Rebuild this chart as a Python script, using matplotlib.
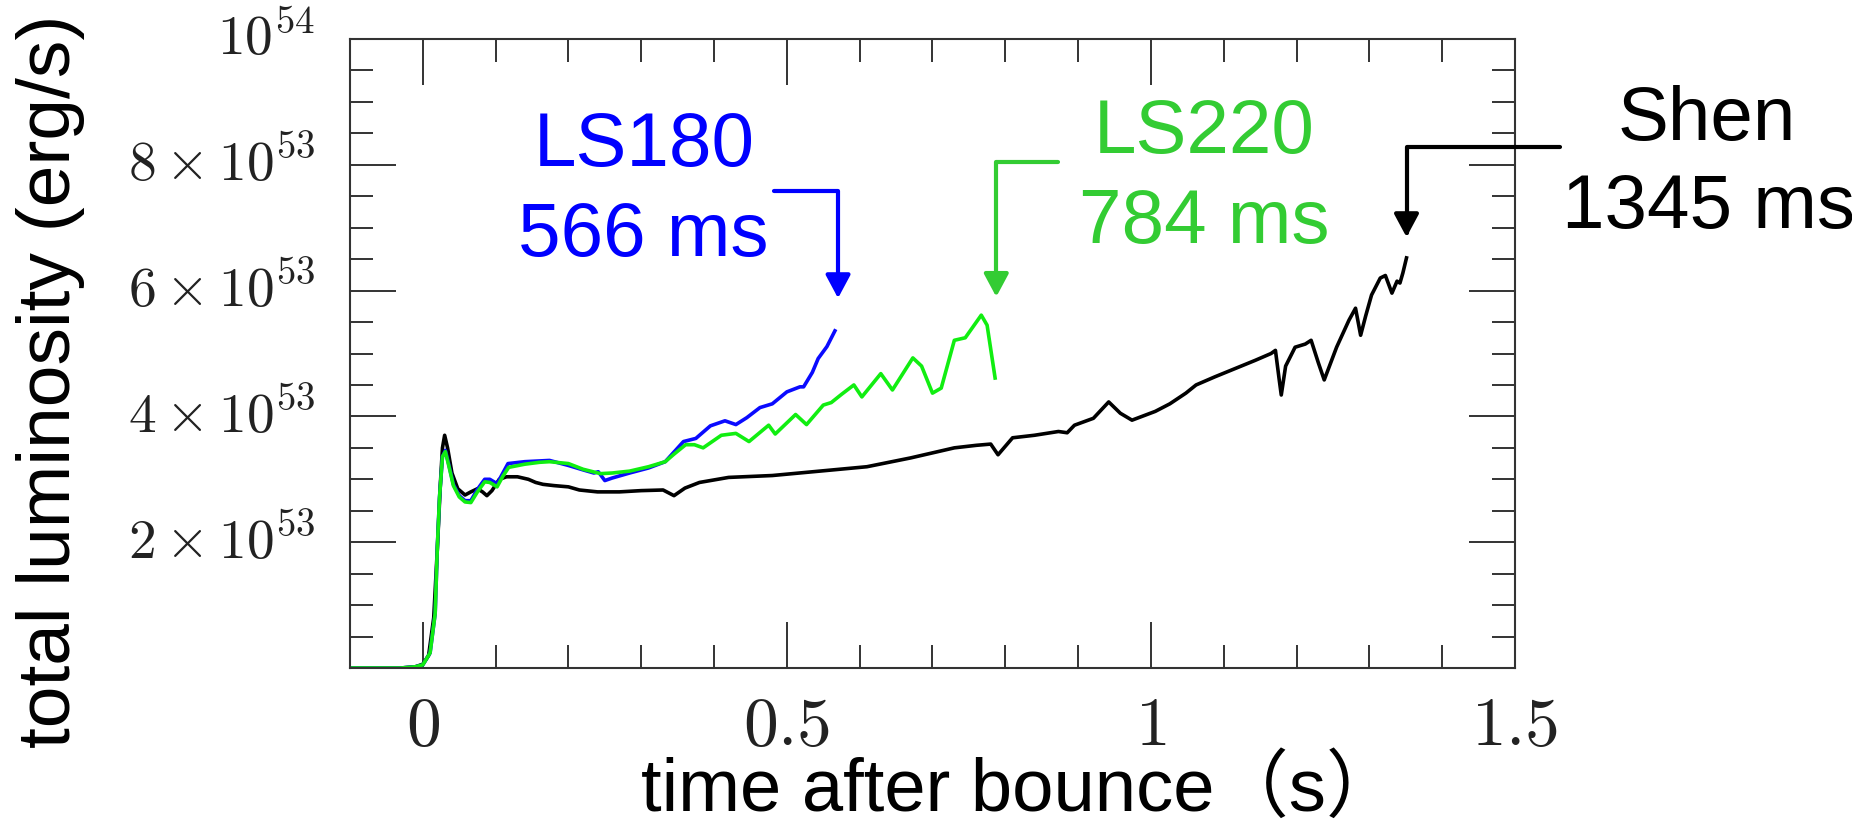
import matplotlib
matplotlib.use('Agg')
import matplotlib.pyplot as plt
import matplotlib.transforms as mtransforms
import numpy as np
from matplotlib.ticker import MultipleLocator

plt.rcParams['mathtext.fontset'] = 'cm'

# time after bounce (s) and total luminosity (in units of 1e53 erg/s)
t_shen = [-0.10, -0.03, -0.01, 0.0, 0.008, 0.015, 0.020, 0.024, 0.027, 0.030, 0.034, 0.040,
          0.048, 0.058, 0.066, 0.075, 0.082, 0.088, 0.095, 0.105, 0.115, 0.130, 0.145, 0.155,
          0.165, 0.180, 0.200, 0.215, 0.240, 0.270, 0.300, 0.330, 0.345, 0.360, 0.380, 0.420,
          0.480, 0.545, 0.610, 0.670, 0.730, 0.760, 0.780, 0.790, 0.810, 0.840, 0.873, 0.885,
          0.895, 0.921, 0.942, 0.958, 0.974, 1.006, 1.026, 1.048, 1.062, 1.088, 1.143, 1.165,
          1.171, 1.176, 1.179, 1.185, 1.198, 1.212, 1.220, 1.230, 1.238, 1.255, 1.272, 1.281,
          1.288, 1.295, 1.303, 1.315, 1.322, 1.331, 1.338, 1.342, 1.346, 1.351]
L_shen = [0.0, 0.0, 0.02, 0.06, 0.2, 0.8, 1.9, 2.9, 3.5, 3.70, 3.5, 3.1,
          2.85, 2.75, 2.80, 2.85, 2.80, 2.74, 2.82, 3.00, 3.04, 3.04, 3.00, 2.95,
          2.92, 2.90, 2.88, 2.83, 2.80, 2.80, 2.82, 2.83, 2.74, 2.86, 2.95, 3.03,
          3.06, 3.13, 3.20, 3.34, 3.50, 3.54, 3.56, 3.39, 3.66, 3.70, 3.76, 3.74,
          3.86, 3.97, 4.23, 4.05, 3.94, 4.08, 4.20, 4.37, 4.50, 4.63, 4.89, 5.00,
          5.05, 4.60, 4.34, 4.80, 5.10, 5.15, 5.21, 4.85, 4.58, 5.10, 5.53, 5.72,
          5.29, 5.60, 5.93, 6.20, 6.24, 5.96, 6.15, 6.12, 6.28, 6.52]

t_ls180 = [-0.10, -0.03, -0.01, 0.0, 0.010, 0.017, 0.020, 0.023, 0.027, 0.031, 0.036, 0.042,
           0.050, 0.058, 0.066, 0.075, 0.085, 0.092, 0.102, 0.110, 0.117, 0.140, 0.174, 0.200,
           0.220, 0.235, 0.241, 0.250, 0.260, 0.284, 0.310, 0.333, 0.358, 0.375, 0.395, 0.415,
           0.430, 0.445, 0.463, 0.480, 0.500, 0.518, 0.523, 0.535, 0.543, 0.555, 0.566]
L_ls180 = [0.0, 0.0, 0.02, 0.05, 0.24, 0.87, 1.93, 2.72, 3.36, 3.46, 3.22, 2.92,
           2.74, 2.66, 2.66, 2.84, 3.00, 3.00, 2.93, 3.10, 3.25, 3.28, 3.30, 3.22,
           3.15, 3.10, 3.12, 2.98, 3.02, 3.10, 3.18, 3.28, 3.60, 3.65, 3.85, 3.93,
           3.87, 3.98, 4.14, 4.20, 4.39, 4.47, 4.47, 4.70, 4.92, 5.11, 5.36]

t_ls220 = [-0.10, -0.03, -0.01, 0.0, 0.010, 0.017, 0.020, 0.023, 0.027, 0.031, 0.036, 0.042,
           0.050, 0.058, 0.066, 0.075, 0.085, 0.092, 0.102, 0.110, 0.118, 0.140, 0.160, 0.174,
           0.200, 0.220, 0.244, 0.260, 0.284, 0.310, 0.333, 0.345, 0.361, 0.373, 0.385, 0.410,
           0.430, 0.448, 0.475, 0.484, 0.512, 0.527, 0.550, 0.561, 0.575, 0.592, 0.603, 0.629,
           0.645, 0.673, 0.685, 0.700, 0.712, 0.730, 0.745, 0.767, 0.775, 0.786]
L_ls220 = [0.0, 0.0, 0.02, 0.05, 0.24, 0.87, 1.93, 2.72, 3.36, 3.44, 3.20, 2.90,
           2.72, 2.64, 2.63, 2.80, 2.96, 2.95, 2.88, 3.05, 3.19, 3.24, 3.27, 3.28,
           3.25, 3.16, 3.09, 3.10, 3.13, 3.20, 3.28, 3.40, 3.55, 3.55, 3.50, 3.70,
           3.73, 3.60, 3.86, 3.72, 4.03, 3.87, 4.18, 4.22, 4.35, 4.50, 4.31, 4.68,
           4.42, 4.93, 4.80, 4.37, 4.45, 5.21, 5.25, 5.61, 5.45, 4.61]

y_tick_vals = [2e53, 4e53, 6e53, 8e53, 1e54]
y_tick_labels = [r'$2\times10^{53}$', r'$4\times10^{53}$', r'$6\times10^{53}$',
                 r'$8\times10^{53}$', r'$10^{54}$']
x_tick_vals = [0, 0.5, 1, 1.5]
x_tick_labels = [r'$0$', r'$0.5$', r'$1$', r'$1.5$']

sans = ['Liberation Sans', 'Noto Sans CJK JP', 'DejaVu Sans']

fig = plt.figure(figsize=(18.52, 8.24), dpi=100)
ax = fig.add_axes([0.18898, 0.18932, 0.62905, 0.76335])

ax.plot(t_shen, np.array(L_shen) * 1e53, color='black', lw=2.6)
ax.plot(t_ls180, np.array(L_ls180) * 1e53, color='#0a0aff', lw=2.6)
ax.plot(t_ls220, np.array(L_ls220) * 1e53, color='#11ee11', lw=2.6)

ax.set_xlim(-0.1, 1.5)
ax.set_ylim(0, 1e54)

ax.set_xticks(x_tick_vals, labels=x_tick_labels)
ax.set_yticks(y_tick_vals, labels=y_tick_labels)
ax.xaxis.set_minor_locator(MultipleLocator(0.1))
ax.yaxis.set_minor_locator(MultipleLocator(5e52))

ax.tick_params(which='both', direction='in', top=True, right=True, color='#333333')
ax.tick_params(which='major', length=33, width=1.4)
ax.tick_params(which='minor', length=16.5, width=1.4)
ax.tick_params(axis='x', which='major', labelsize=50, pad=17, labelcolor='#222222')
ax.tick_params(axis='y', which='major', labelsize=40, pad=25, labelcolor='#222222')
for sp in ax.spines.values():
    sp.set_linewidth(1.5)
    sp.set_color('#333333')

# put the digits' baseline a little below each y tick
shift = mtransforms.ScaledTranslation(0, -16 / 100, fig.dpi_scale_trans)
for lbl in ax.get_yticklabels():
    lbl.set_va('baseline')
    lbl.set_transform(lbl.get_transform() + shift)

ax.set_xlabel('time after bounce（s）', fontsize=53.5, family=sans)
ax.xaxis.set_label_coords(0.576, -0.2273)
ax.xaxis.label.set_va('baseline')
ax.set_ylabel('total luminosity (erg/s)', fontsize=54, family=sans)
ax.yaxis.set_label_coords(-0.2575, 0.456)
ax.yaxis.label.set_va('center')

# annotations: model name, end time, bent arrow to the curve end
def bent_arrow(start, tip, color):
    ax.annotate('', xy=tip, xytext=start, annotation_clip=False,
                arrowprops=dict(arrowstyle='-|>,head_length=14,head_width=7.5',
                                mutation_scale=1, connectionstyle='angle,angleA=0,angleB=90,rad=0',
                                lw=3, color=color, shrinkA=0, shrinkB=0))

def two_lines(x1, y1, s1, x2, y2, s2, color):
    ax.text(x1, y1, s1, color=color, fontsize=55, family=sans, ha='center', va='baseline', clip_on=False)
    ax.text(x2, y2, s2, color=color, fontsize=55, family=sans, ha='center', va='baseline', clip_on=False)

two_lines(0.3048, 7.98e53, 'LS180', 0.3034, 6.55e53, '566 ms', '#0000ff')
bent_arrow((0.483, 7.58e53), (0.5703, 5.88e53), '#0000ff')

two_lines(1.0731, 8.19e53, 'LS220', 1.0731, 6.76e53, '784 ms', '#33cc33')
bent_arrow((0.872, 8.04e53), (0.7876, 5.90e53), '#33cc33')

two_lines(1.7628, 8.39e53, 'Shen', 1.7655, 7.00e53, '1345 ms', 'black')
bent_arrow((1.562, 8.28e53), (1.351, 6.85e53), 'black')

fig.savefig('out.png', dpi=100)
